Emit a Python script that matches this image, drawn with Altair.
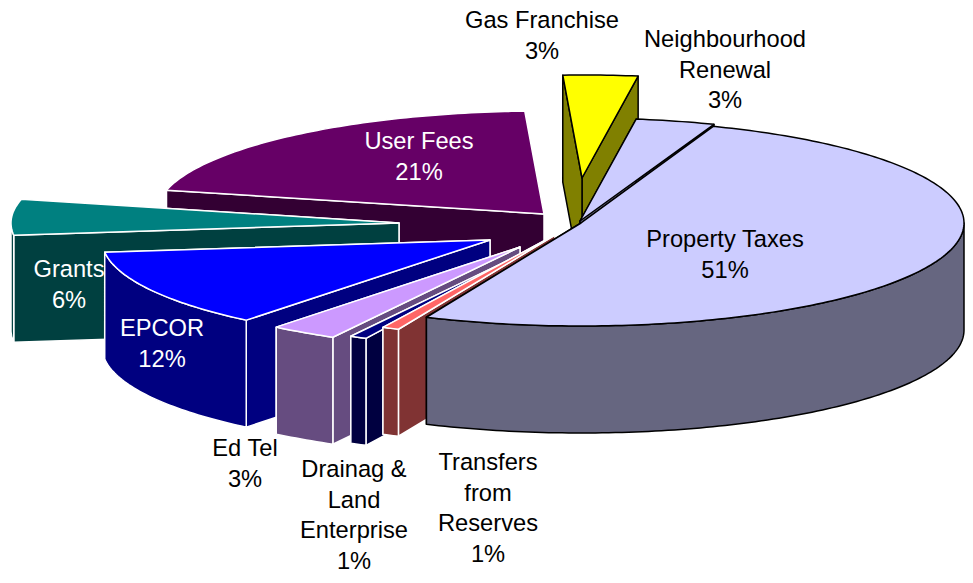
import math
import altair as alt

# values (percent of revenue) and printed labels
categories = ["Neighbourhood Renewal", "Gas Franchise", "User Fees", "Grants", "EPCOR",
              "Ed Tel", "Drainag & Land Enterprise", "Transfers from Reserves", "Property Taxes"]
shares = [3.3, 3.1, 20.5, 5.6, 12.3, 2.8, 0.7, 0.7, 51.0]
pct_labels = ["3%", "3%", "21%", "6%", "12%", "3%", "1%", "1%", "51%"]
label_lines = ["Neighbourhood\nRenewal", "Gas Franchise", "User Fees", "Grants", "EPCOR",
               "Ed Tel", "Drainag &\nLand\nEnterprise", "Transfers\nfrom\nReserves", "Property Taxes"]

# styling / layout
top_colors = ["#CCCCFF", "#FFFF00", "#660066", "#008080", "#0000FF", "#CC99FF", "#000080", "#FF6666", "#CCCCFF"]
side_colors = ["#666680", "#808000", "#330033", "#004040", "#000080", "#664C80", "#000040", "#803333", "#666680"]
edge_colors = ["#000000", "#000000", "#FFFFFF", "#FFFFFF", "#FFFFFF", "#FFFFFF", "#FFFFFF", "#FFFFFF", "#000000"]
text_colors = ["#000000", "#000000", "#FFFFFF", "#FFFFFF", "#FFFFFF", "#000000", "#000000", "#000000", "#000000"]
apexes = [(580, 221), (582, 178), (544, 214), (399, 223), (490, 240), (520, 247), (538, 246), (555, 235), (581, 223)]
radii_x = [388, 388, 388, 388, 388, 388, 388, 388, 383]
label_at = [(725, 40), (542, 21), (419, 142), (69, 270), (162, 329), (245, 449), (354, 470), (488, 463), (725, 240)]
draw_order = [1, 0, 2, 3, 4, 5, 6, 7, 8]
RY, THICK = 103.0, 107.0
START = 69.8
PAGE = 8


def pt(apex, rx, deg, drop=0.0):
    r = math.radians(deg)
    return [apex[0] + rx * math.cos(r), apex[1] - RY * math.sin(r) + drop]


def arc(apex, rx, a0, a1, drop=0.0):
    n = max(2, int(abs(a1 - a0)) + 2)
    return [pt(apex, rx, a0 + (a1 - a0) * i / (n - 1), drop) for i in range(n)]


def feature(ring, fill, line):
    ring = ring + [ring[0]]
    return {"type": "Feature", "properties": {"fill": fill, "line": line},
            "geometry": {"type": "Polygon", "coordinates": [ring]}}


bounds = []
a = START
for s in shares:
    bounds.append((a, a + s * 3.6))
    a += s * 3.6

features = []
for i in draw_order:
    a0, a1 = bounds[i]
    ap = apexes[i]
    rx = radii_x[i]
    low = [ap[0], ap[1] + THICK]
    side, top, line = side_colors[i], top_colors[i], edge_colors[i]
    for ang in (a0, a1):
        features.append(feature([list(ap), pt(ap, rx, ang), pt(ap, rx, ang, THICK), low], side, line))
    r0, r1 = max(a0, 180.0), min(a1, 360.0)
    if r1 > r0:
        features.append(feature(arc(ap, rx, r0, r1) + arc(ap, rx, r1, r0, THICK), side, line))
    features.append(feature([list(ap)] + arc(ap, rx, a0, a1), top, line))

shapes = alt.Chart(alt.InlineData(values={"type": "FeatureCollection", "features": features},
                                  format=alt.DataFormat(property="features", type="json"))
                   ).mark_geoshape(strokeWidth=1.5, strokeJoin="round").encode(
    color=alt.Color("properties.fill:N", scale=None),
    stroke=alt.Stroke("properties.line:N", scale=None),
).project(type="identity", scale=1, translate=[-PAGE, -PAGE])

rows = []
for i in range(len(categories)):
    rows.append({"t": label_lines[i] + "\n" + pct_labels[i],
                 "lx": label_at[i][0] - PAGE, "ly": label_at[i][1] - PAGE, "c": text_colors[i]})

texts = alt.Chart(alt.Data(values=rows)).mark_text(
    font="Liberation Sans", fontSize=23.7, lineBreak="\n", lineHeight=30.5,
    align="center", baseline="middle").encode(
    x=alt.X("lx:Q", scale=None, axis=None),
    y=alt.Y("ly:Q", scale=None, axis=None),
    text="t:N",
    color=alt.Color("c:N", scale=None),
)

chart = alt.layer(shapes, texts).properties(
    width=957, height=567, padding=0, background="white",
    autosize=alt.AutoSizeParams(type="none"),
).configure_view(stroke=None)

chart.save("out.html", embed_options={"renderer": "svg", "actions": False})
